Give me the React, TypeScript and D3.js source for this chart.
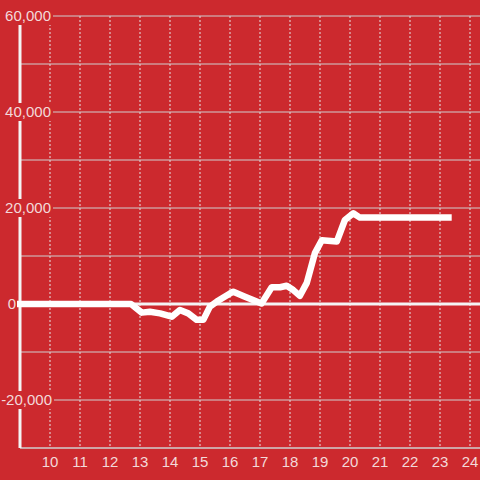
import React from "react";
import * as d3 from "d3";

const xTicks = [10, 11, 12, 13, 14, 15, 16, 17, 18, 19, 20, 21, 22, 23, 24];
const yLabelTicks = [60000, 40000, 20000, 0, -20000];
const yGridTicks = [60000, 50000, 40000, 30000, 20000, 10000, -10000, -20000];

const seriesX = [8.9, 12.7, 13.06, 13.33, 13.67, 14.06, 14.33, 14.61, 14.89, 15.11, 15.33, 15.56, 16.0, 16.11, 16.5, 16.89, 17.05, 17.39, 17.67, 17.89, 18.11, 18.33, 18.56, 18.83, 19.06, 19.56, 19.83, 20.11, 20.33, 23.39];
const seriesY = [0, 0, -1800, -1600, -1950, -2650, -1250, -1950, -3300, -3300, -550, 500, 2200, 2550, 1500, 500, 100, 3500, 3500, 3800, 2900, 1700, 4400, 10600, 13300, 13000, 17500, 18900, 18000, 18000];

const W = 480;
const H = 480;
const BG = "#cc292e";
const TXT = "#f3d9da";

export default function App() {
  const x = d3.scaleLinear().domain([10, 24]).range([50, 470]);
  const y = d3.scaleLinear().domain([60000, -30000]).range([16, 448]);
  const data = seriesX.map((v, i) => [v, seriesY[i]] as [number, number]);
  const line = d3
    .line<[number, number]>()
    .x((d) => x(d[0]))
    .y((d) => y(d[1]));
  const fmt = (v: number) => d3.format(",")(v).replace("\u2212", "-");
  const x0 = x(9);
  return (
    <svg
      width={W}
      height={H}
      style={{ position: "absolute", left: 0, top: 0, display: "block" }}
      fontFamily="'Liberation Sans', Arial, sans-serif"
    >
      <rect x={0} y={0} width={W} height={H} fill={BG} />
      {xTicks.map((t) => (
        <line
          key={"vx" + t}
          x1={x(t)}
          x2={x(t)}
          y1={y(60000)}
          y2={y(-30000)}
          stroke="#e6e6e6"
          strokeWidth={1}
          strokeDasharray="2,2"
        />
      ))}
      {yGridTicks.map((t) => (
        <line
          key={"hy" + t}
          x1={x0}
          x2={W}
          y1={y(t)}
          y2={y(t)}
          stroke="#cfcfcf"
          strokeWidth={1}
        />
      ))}
      <line x1={x0} x2={W} y1={y(-30000)} y2={y(-30000)} stroke="#cfcfcf" strokeWidth={1.5} />
      <line x1={x0} x2={x0} y1={y(60000)} y2={y(-30000)} stroke="#f4f4f4" strokeWidth={3} />
      <line x1={x0} x2={W} y1={y(0)} y2={y(0)} stroke="#f4f4f4" strokeWidth={3} />
      {yLabelTicks.map((t) => {
        const isZero = t === 0;
        const ex = isZero ? 16 : t < 0 ? 52 : 51;
        const w = isZero ? 10 : t < 0 ? 52 : 47;
        return (
          <g key={"yl" + t}>
            <rect x={ex - w} y={y(t) - 9} width={w + 2} height={18} fill={BG} />
            <text
              x={ex}
              y={y(t)}
              dy="0.36em"
              textAnchor="end"
              fontSize={15}
              fill={TXT}
            >
              {fmt(t)}
            </text>
          </g>
        );
      })}
      <path
        d={line(data) || ""}
        fill="none"
        stroke="#ffffff"
        strokeWidth={6.5}
        strokeLinejoin="round"
      />
      {xTicks.map((t) => (
        <text
          key={"xl" + t}
          x={x(t)}
          y={462}
          dy="0.36em"
          textAnchor="middle"
          fontSize={15}
          fill={TXT}
        >
          {t}
        </text>
      ))}
    </svg>
  );
}
